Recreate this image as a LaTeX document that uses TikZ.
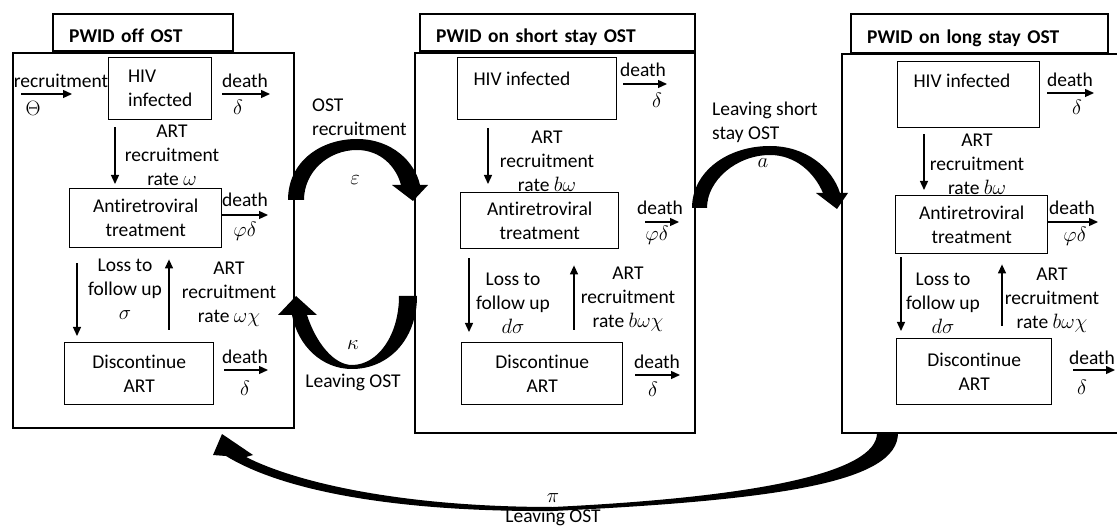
\documentclass[tikz,border=0pt]{standalone}
\usepackage{fontspec}
\setmainfont{Carlito}[Ligatures=NoCommon]
\usetikzlibrary{arrows.meta,calc}
\newcommand{\fs}{\fontsize{19.5pt}{24pt}\selectfont}
\newcommand{\deathto}[4]{\coordinate (#1s) at (#2,#4); \coordinate (#1e) at (#3,#4); \draw[thinarr] (#1s) -- (#1e);}
\begin{document}
\begin{tikzpicture}[x=1pt,y=-1pt,
  font=\fs,
  outerbox/.style={draw, line width=2pt, inner sep=0pt, anchor=north west},
  titlebox/.style={draw, line width=2.4pt, anchor=north west, inner ysep=0pt, inner xsep=16pt, align=left, font=\fs\bfseries, text height=22pt, text depth=2pt},
  cbox/.style={draw, line width=1.4pt, inner sep=0pt, anchor=north west, align=center},
  lbl/.style={inner sep=0pt, align=center},
  thinarr/.style={line width=1.3pt, -{Triangle[length=9pt,width=8pt]}},
  bigarr/.style={fill=black, draw=none}]

\fill[white] (0,0) rectangle (1117,529);
\useasboundingbox (0,0) rectangle (1117,529);

% ---------- titles and panels ----------
\node[titlebox, text width=148pt, minimum height=37pt] (toff) at (52,13) {PWID off OST};
\node[titlebox, text width=243pt, minimum height=37pt] (tshort) at (419,13) {PWID on short stay OST};
\node[titlebox, text width=225pt, minimum height=39pt] (tlong) at (850,13) {PWID on long stay OST};

\node[outerbox, minimum width=281pt, minimum height=375pt] (offb) at (12,52) {};
\node[outerbox, minimum width=280pt, minimum height=380pt] (shortb) at (414,52) {};
\node[outerbox, minimum width=290pt, minimum height=379pt] (longb) at (841,53) {};

% ---------- left panel ----------
\node[cbox, minimum width=103pt, minimum height=62pt, align=left] (hiv1) at (108,57) {HIV\\infected};
\node[cbox, minimum width=152pt, minimum height=59pt] (art1) at (69,188) {Antiretroviral\\treatment};
\node[cbox, minimum width=149pt, minimum height=62pt] (dis1) at (64,342) {Discontinue\\ART};

\draw[thinarr] ([shift={(7,7)}]hiv1.south west) -- ([shift={(46,-4)}]art1.north west);
\draw[thinarr] ([shift={(8,15)}]art1.south west) -- ([shift={(13,-6)}]dis1.north west);
\draw[thinarr] ([shift={(105,-12)}]dis1.north west) -- ([shift={(100,11)}]art1.south west);

\node[lbl] (l1) at (172,155) {ART\\recruitment\\rate $\omega$};
\node[lbl] (l2) at (125,289) {Loss to\\follow up\\$\sigma$};
\node[lbl] (l3) at (229,294) {ART\\recruitment\\rate $\omega\chi$};

\deathto{rec}{21}{72}{94}
\node[lbl] (l4) at (61,81) {recruitment};
\node[lbl] (l5) at (33,108) {$\Theta$};

\deathto{dA}{222}{270}{94}
\node[lbl] (l6) at (245,81) {death};
\node[lbl] (l7) at (238,107) {$\delta$};
\deathto{dB}{222}{268}{215}
\node[lbl] (l8) at (245,200) {death};
\node[lbl] (l9) at (245,231) {$\varphi\delta$};
\deathto{dC}{224}{268}{370}
\node[lbl] (l10) at (245,357) {death};
\node[lbl] (l11) at (245,388) {$\delta$};

% ---------- middle panel ----------
\node[cbox, minimum width=159pt, minimum height=62pt] (hiv2) at (457,57) {};
\node[lbl] (m0) at (522,79) {HIV infected};
\node[cbox, minimum width=158pt, minimum height=56pt] (art2) at (460,192) {Antiretroviral\\treatment};
\node[cbox, minimum width=161pt, minimum height=62pt] (dis2) at (461,342) {Discontinue\\ART};

\draw[thinarr] ([shift={(31,8)}]hiv2.south west) -- ([shift={(28,-8)}]art2.north west);
\draw[thinarr] ([shift={(9,9)}]art2.south west) -- ([shift={(8,-10)}]dis2.north west);
\draw[thinarr] ([shift={(113,-12)}]dis2.north west) -- ([shift={(114,16)}]art2.south west);

\node[lbl] (m1) at (547,161) {ART\\recruitment\\rate $b\omega$};
\node[lbl] (m2) at (513,303) {Loss to\\follow up\\$d\sigma$};
\node[lbl] (m3) at (628,299) {ART\\recruitment\\rate $b\omega\chi$};

\deathto{dD}{623}{667}{84}
\node[lbl] (m4) at (643,70) {death};
\node[lbl] (m5) at (657,100) {$\delta$};
\deathto{dE}{645}{679}{222}
\node[lbl] (m6) at (660,208) {death};
\node[lbl] (m7) at (657,235) {$\varphi\delta$};
\deathto{dF}{635}{680}{375}
\node[lbl] (m8) at (657,362) {death};
\node[lbl] (m9) at (653,389) {$\delta$};

% ---------- right panel ----------
\node[cbox, minimum width=142pt, minimum height=66pt] (hiv3) at (897,61) {};
\node[lbl] (r0) at (962,81) {HIV infected};
\node[cbox, minimum width=152pt, minimum height=58pt] (art3) at (895,195) {Antiretroviral\\treatment};
\node[cbox, minimum width=155pt, minimum height=66pt] (dis3) at (896,338) {Discontinue\\ART};

\draw[thinarr] ([shift={(27,6)}]hiv3.south west) -- ([shift={(29,-5)}]art3.north west);
\draw[thinarr] ([shift={(6,3)}]art3.south west) -- ([shift={(5,-7)}]dis3.north west);
\draw[thinarr] ([shift={(106,-12)}]dis3.north west) -- ([shift={(107,10)}]art3.south west);

\node[lbl] (r1) at (977,164) {ART\\recruitment\\rate $b\omega$};
\node[lbl] (r2) at (943,303) {Loss to\\follow up\\$d\sigma$};
\node[lbl] (r3) at (1052,300) {ART\\recruitment\\rate $b\omega\chi$};

\deathto{dG}{1047}{1094}{93}
\node[lbl] (r4) at (1070,80) {death};
\node[lbl] (r5) at (1077,107) {$\delta$};
\deathto{dH}{1047}{1098}{222}
\node[lbl] (r6) at (1072,208) {death};
\node[lbl] (r7) at (1075,236) {$\varphi\delta$};
\deathto{dI}{1073}{1115}{370}
\node[lbl] (r8) at (1092,358) {death};
\node[lbl] (r9) at (1082,387) {$\delta$};

% ---------- big curved arrows ----------
% OST recruitment (epsilon)
\fill[bigarr] (288,200) .. controls (288,162) and (320,139) .. (357,139)
  .. controls (392,139) and (415,162) .. (420,185) -- (428,185) -- (413,201) -- (392,185) -- (401,185)
  .. controls (396,166) and (380,150) .. (357,150)
  .. controls (328,150) and (304,172) .. (304,200) -- cycle;
\node[lbl, align=left, anchor=west] (b1) at (312,117) {OST\\recruitment};
\node[lbl] (b2) at (355,180) {$\varepsilon$};

% Leaving OST (kappa)
\fill[bigarr] (417,296) .. controls (417,340) and (388,369) .. (352,369)
  .. controls (322,369) and (298,346) .. (292,315) -- (278,315) -- (296,296) -- (317,315) -- (307,315)
  .. controls (316,343) and (334,365) .. (352,365)
  .. controls (378,365) and (399,335) .. (399,296) -- cycle;
\node[lbl] (b3) at (353,345) {$\kappa$};
\node[lbl] (b4) at (353,382) {Leaving OST};

% Leaving short stay OST (a)
\fill[bigarr] (692,208) .. controls (692,172) and (727,146) .. (770,146)
  .. controls (806,146) and (832,168) .. (840,193) -- (848,193) -- (837,209) -- (816,193) -- (823,193)
  .. controls (814,172) and (795,155) .. (770,155)
  .. controls (737,155) and (707,180) .. (707,208) -- cycle;
\node[lbl, align=left, anchor=west] (b5) at (712,122) {Leaving short\\stay OST};
\node[lbl] (b6) at (763,163) {$a$};

% Leaving OST (pi)
\fill[bigarr] (898,433) .. controls (898,482) and (780,500) .. (553,511)
  .. controls (400,512) and (285,492) .. (226,456) -- (213,455) -- (222,434) -- (253,455) -- (246,457)
  .. controls (295,482) and (400,507) .. (553,507)
  .. controls (760,497) and (877,472) .. (877,433) -- cycle;
\node[lbl] (b7) at (553,498) {$\pi$};
\node[lbl] (b8) at (553,517) {Leaving OST};

\end{tikzpicture}
\end{document}
